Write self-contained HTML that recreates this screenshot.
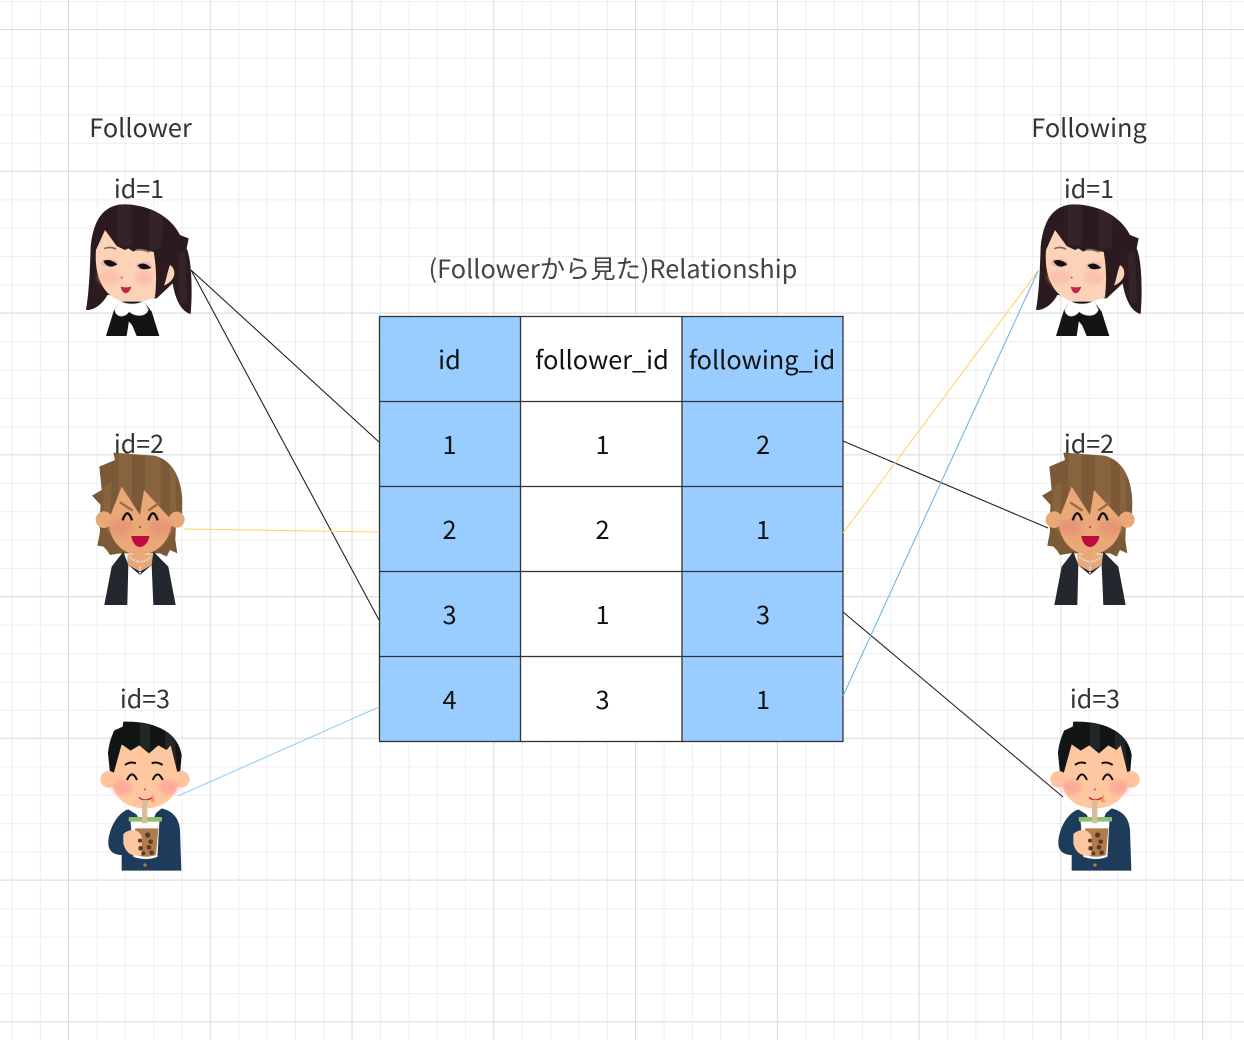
<!DOCTYPE html>
<html><head><meta charset="utf-8"><style>html,body{margin:0;padding:0;background:#fff;width:1244px;height:1040px;overflow:hidden}svg{display:block}text{font-family:"Noto Sans CJK JP","Liberation Sans",sans-serif}</style></head><body>
<svg xmlns="http://www.w3.org/2000/svg" width="1244" height="1040" viewBox="0 0 1244 1040">
<defs>
<filter id="soft" x="-50%" y="-50%" width="200%" height="200%"><feGaussianBlur stdDeviation="7"/></filter>
<clipPath id="girlHair"><path d="M160 103C100 105 70 150 62 230C60 290 58 360 48 420C72 422 98 402 112 375L260 385L308 340C316 390 335 425 362 432C368 360 365 270 350 235L356 205L330 195C300 135 230 103 160 103Z"/></clipPath>
<clipPath id="guyHair"><path d="M130 83L250 92C300 100 335 150 337 230L336 270L318 290L316 345L322 385L300 375L290 395L270 385L150 385L120 390L110 375L100 365L82 362L90 320L88 285L92 240L66 212L95 195L88 125L135 105Z"/></clipPath>
<clipPath id="boyHair"><path d="M130 125C230 122 295 160 305 225L300 285L90 280L84 220C88 180 100 160 102 152L128 140Z"/></clipPath>
<pattern id="minor" x="11.5" y="1" width="28.35" height="28.35" patternUnits="userSpaceOnUse"><path d="M.5 0V28.35M0 .5H28.35" stroke="#eeeeee" stroke-width="1" fill="none"/></pattern>
<pattern id="major" x="68" y="29" width="141.75" height="141.75" patternUnits="userSpaceOnUse"><path d="M.5 0V141.75M0 .5H141.75" stroke="#dddddd" stroke-width="1" fill="none"/></pattern>
<g id="girl">
<path d="M160 103C100 105 70 150 62 230C60 290 58 360 48 420C72 422 98 402 112 375L260 385L308 340C316 390 335 425 362 432C368 360 365 270 350 235L356 205L330 195C300 135 230 103 160 103Z" fill="#2b1a1e"/>
<path clip-path="url(#girlHair)" d="M143 100L185 100L185 230L143 225ZM238 100L280 100L270 330L238 340ZM322 250L345 240L352 400L330 400Z" fill="#35232a"/>
<path d="M105 180L78 240C72 320 100 375 150 392C195 402 235 390 255 382L280 250L245 245L205 237L190 245L175 235L165 240L140 228Z" fill="#fcd3b6"/>
<path d="M250 240C262 300 258 350 255 384L285 340C300 300 300 270 290 230Z" fill="#2b1a1e"/>
<path d="M300 285C318 295 322 330 282 347C290 325 292 305 300 285Z" fill="#fcd3b6"/>
<ellipse cx="118" cy="322" rx="34" ry="22" fill="#f9b4a4" opacity=".6" filter="url(#soft)"/><ellipse cx="222" cy="322" rx="30" ry="22" fill="#f9b4a4" opacity=".6" filter="url(#soft)"/>
<path d="M103 236Q120 228 138 237" stroke="#77666a" stroke-width="5" fill="none"/>
<path d="M198 240Q215 236 238 246" stroke="#77666a" stroke-width="5" fill="none"/>
<ellipse cx="118" cy="279" rx="26" ry="13" fill="#f3b8b8"/><ellipse cx="222" cy="288" rx="24" ry="13" fill="#f3b8b8"/>
<path d="M100 273Q120 264 142 283Q125 294 112 287Q104 282 100 273Z" fill="#111"/><path d="M202 286Q222 272 244 294Q225 300 212 296Z" fill="#111"/>
<circle cx="155" cy="323" r="3" fill="#c8506a"/>
<path d="M152 350Q168 354 184 350Q178 370 166 370Q156 368 152 350Z" fill="#c2264f"/>
<path d="M132 420L108 498H170L178 445L200 498H268L245 425L222 395H150Z" fill="#141414"/>
<path d="M150 393C170 405 200 405 222 393L235 420C225 442 195 440 178 425C160 445 140 442 134 420Z" fill="#fff" stroke="#ddd" stroke-width="2"/>
<path d="M175 428L155 470L173 450L190 470L180 430Z" fill="#111"/>
</g>
<g id="guy">
<path d="M130 83L250 92C300 100 335 150 337 230L336 270L318 290L316 345L322 385L300 375L290 395L270 385L150 385L120 390L110 375L100 365L82 362L90 320L88 285L92 240L66 212L95 195L88 125L135 105Z" fill="#7d5a37"/>
<path clip-path="url(#guyHair)" d="M145 80L185 80L185 290H145ZM225 80L272 80L272 270L225 270ZM300 90L318 90L318 260H300ZM100 190L125 170L120 290H100Z" fill="#8a663f" opacity=".8"/>
<circle cx="102" cy="284" r="25" fill="#e9a877"/><circle cx="320" cy="284" r="24" fill="#e9a877"/>
<path d="M155 185L210 270L222 195L305 285C305 340 270 385 210 390C150 388 116 340 116 285Z" fill="#eaa777"/>
<ellipse cx="150" cy="308" rx="34" ry="24" fill="#e58f76" opacity=".7" filter="url(#soft)"/><ellipse cx="272" cy="308" rx="34" ry="24" fill="#e58f76" opacity=".7" filter="url(#soft)"/>
<path d="M150 232L188 257M270 232L235 257" stroke="#9a6c42" stroke-width="7"/>
<path d="M158 286Q172 244 186 286M235 286Q249 244 263 286" stroke="#111" stroke-width="7" fill="none"/>
<circle cx="210" cy="306" r="3" fill="#b52a45"/>
<path d="M184 333H238C236 352 222 366 210 366C198 366 186 352 184 333Z" fill="#bf0a3e"/>
<path d="M172 388H248V425L212 445L172 420Z" fill="#e8a877"/>
<path d="M160 380L125 425L103 540H317L295 425L250 380L245 420L210 440L175 420Z" fill="#23272e"/>
<path d="M175 420L210 450L245 420L250 540H172Z" fill="#fff"/>
<path d="M178 395Q210 425 243 395M210 425V450" stroke="#ddd" stroke-width="6" fill="none" stroke-dasharray="5 3"/>
</g>
<g id="boy">
<path d="M130 125C230 122 295 160 305 225L300 285L90 280L84 220C88 180 100 160 102 152L128 140Z" fill="#111516"/>
<path clip-path="url(#boyHair)" d="M180 120L210 120L210 210L180 205ZM255 120L282 120L290 260L255 200Z" fill="#222627"/>
<circle cx="86" cy="298" r="25" fill="#ffc49b"/><circle cx="304" cy="298" r="25" fill="#ffc49b"/>
<path d="M125 193L152 212L178 196L207 220L235 196L260 210L272 196L293 280L296 310C280 365 240 385 195 385C145 385 105 360 97 310L101 280Z" fill="#ffc79f"/>
<ellipse cx="125" cy="322" rx="30" ry="22" fill="#fb9c94" opacity=".65" filter="url(#soft)"/><ellipse cx="267" cy="322" rx="30" ry="22" fill="#fb9c94" opacity=".65" filter="url(#soft)"/>
<path d="M135 255Q150 243 168 250M215 250Q230 243 248 255" stroke="#111" stroke-width="6" fill="none"/>
<path d="M141 300Q156 266 171 300M218 300Q233 266 248 300" stroke="#111" stroke-width="6" fill="none"/>
<circle cx="195" cy="328" r="3" fill="#d9415a"/>
<path d="M177 352Q195 368 218 352" stroke="#c41c50" stroke-width="4" fill="none"/>
<path d="M145 388C110 400 85 450 85 490C85 515 105 525 125 525V572H304L300 450C297 420 285 395 245 385L215 410H180Z" fill="#1f3b5c"/>
<path d="M165 392L230 392L222 415H175Z" fill="#fff"/>
<path d="M152 420H238L232 530C210 540 180 538 160 530Z" fill="#fff" stroke="#e7e7e7"/>
<path d="M165 445H235L228 525C210 532 185 532 170 525Z" fill="#b07c4e"/>
<rect x="146" y="411" width="100" height="14" rx="3" fill="#8cc070"/>
<rect x="186" y="360" width="16" height="70" fill="#d9bd97"/>
<path d="M130 462C150 445 175 445 185 470L185 525C170 530 140 530 130 490Z" fill="#ffc79f"/>
<g fill="#5c3a24"><circle cx="203" cy="465" r="8"/><circle cx="180" cy="482" r="6"/><circle cx="212" cy="485" r="7"/><circle cx="182" cy="505" r="7"/><circle cx="207" cy="502" r="7"/><circle cx="190" cy="520" r="6"/><circle cx="215" cy="518" r="7"/></g>
<circle cx="195" cy="555" r="5" fill="#b08046"/>
<path d="M220 340L212 365L225 368Z" fill="#f09a55"/>
</g>
<g id="people">
<text x="139" y="198" text-anchor="middle" font-size="25" fill="#333">id=1</text>
<text x="139" y="453" text-anchor="middle" font-size="25" fill="#333">id=2</text>
<text x="145" y="708" text-anchor="middle" font-size="25" fill="#333">id=3</text>
<use href="#girl" transform="translate(70 170) scale(.3333)"/>
<use href="#guy" transform="translate(70 425) scale(.3333)"/>
<use href="#boy" transform="translate(80 680) scale(.3333)"/>
</g>
</defs>
<rect width="1244" height="1040" fill="#fff"/>
<rect width="1244" height="1040" fill="url(#minor)"/>
<rect width="1244" height="1040" fill="url(#major)"/>
<text x="140.500" y="137" text-anchor="middle" font-size="25.300" fill="#333">Follower</text>
<text x="1089" y="137" text-anchor="middle" font-size="25.300" fill="#333">Following</text>
<text x="613" y="278" text-anchor="middle" font-size="25.300" fill="#444">(Followerから見た)Relationship</text>
<use href="#people"/>
<use href="#people" x="950"/>
<g fill="#99ccff"><rect x="379.500" y="316.500" width="141" height="425"/><rect x="682" y="316.500" width="161" height="425"/></g>
<rect x="520.500" y="316.500" width="161.500" height="425" fill="#fff"/>
<g fill="none" stroke="#333" stroke-width="1.300">
<rect x="379.500" y="316.500" width="463.500" height="425"/>
<path d="M520.500 316.500V741.500M682 316.500V741.500M379.500 401.500H843M379.500 486.500H843M379.500 571.500H843M379.500 656.500H843"/>
</g>
<g font-size="25.300" fill="#111" text-anchor="middle">
<text x="449.500" y="369">id</text><text x="602" y="369">follower_id</text><text x="762" y="369">following_id</text>
<text x="449.500" y="454">1</text><text x="602.500" y="454">1</text><text x="763" y="454">2</text>
<text x="449.500" y="539">2</text><text x="602.500" y="539">2</text><text x="763" y="539">1</text>
<text x="449.500" y="624">3</text><text x="602.500" y="624">1</text><text x="763" y="624">3</text>
<text x="449.500" y="709">4</text><text x="602.500" y="709">3</text><text x="763" y="709">1</text>
</g>
<g fill="none" stroke-width="1.100">
<path d="M191 270L379 442M191 270L379 620M843 441L1048 528M843 612L1063 797" stroke="#222"/>
<path d="M184 529L379 532M843 533L1038 271" stroke="#ffd666"/>
<path d="M178 796L379 707" stroke="#8fd3f5"/>
<path d="M843 696L1038 271" stroke="#6fb6e8"/>
</g>
</svg>
</body></html>
